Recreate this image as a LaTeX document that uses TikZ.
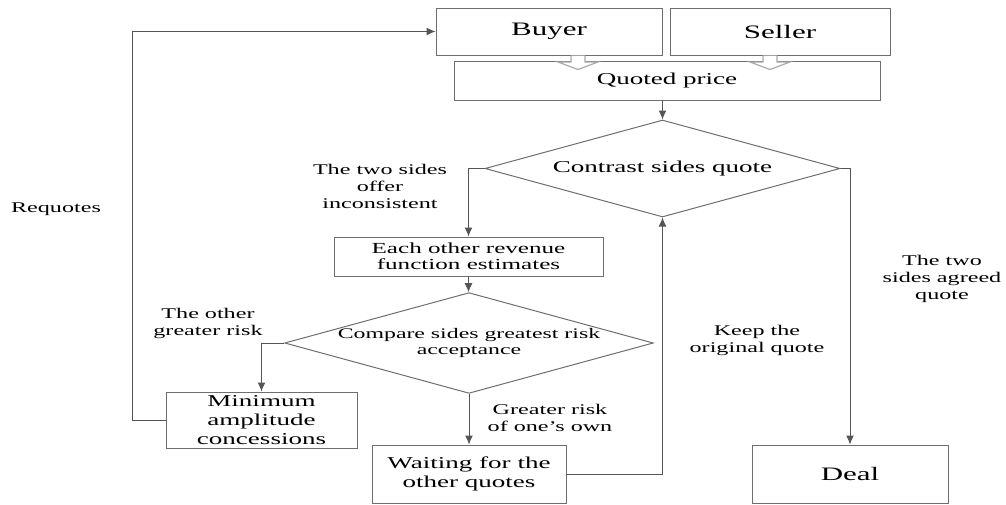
\documentclass[tikz,border=0pt]{standalone}
\usepackage{fontspec}
\setmainfont[FakeStretch=1.63]{Liberation Serif}
\usetikzlibrary{arrows.meta,shapes.geometric}
\definecolor{boxgray}{RGB}{110,110,110}
\definecolor{linegray}{RGB}{85,85,85}
\definecolor{hollowgray}{RGB}{170,170,170}

\begin{document}
\begin{tikzpicture}[x=0.5pt,y=-0.5pt,
	box/.style={draw=boxgray,line width=.5pt,inner sep=0,align=center,font=\fontsize{8.3}{9.7}\selectfont},
	bigbox/.style={box,font=\fontsize{9.5}{11}\selectfont},
	decision/.style={diamond,draw=boxgray,line width=.5pt,aspect=3.66,inner sep=0,align=center},
	lbl/.style={align=center,font=\fontsize{7.4}{8.5}\selectfont},
	arr/.style={draw=linegray,line width=.5pt,-{Latex[length=4.5pt,width=4pt]}},
	hollow/.style={draw=hollowgray,fill=white,line width=.6pt}]
	\useasboundingbox (0,0) rectangle (1006,504);
	
	% boxes
	\node[bigbox,minimum width=113pt,minimum height=23.5pt] (buyer) at (549,31.5) {Buyer};
	\node[bigbox,minimum width=110pt,minimum height=23.5pt] (seller) at (780,31.5) {Seller};
	\node[box,minimum width=213pt,minimum height=19.5pt] (quoted) at (667,80.5) {Quoted price};
	\node[decision,minimum width=177.5pt,minimum height=48.5pt,font=\fontsize{8.3}{9.7}\selectfont] (contrast) at (662.5,168.5) {Contrast sides quote};
	\node[box,minimum width=134.5pt,minimum height=19.5pt,font=\fontsize{7.7}{8.2}\selectfont] (estimate) at (468.5,256.5) {Each other revenue\\function estimates};
	\node[decision,minimum width=176pt,minimum height=48pt,font=\fontsize{7.3}{7.9}\selectfont] (compare) at (469,343) {Compare sides greatest risk\\acceptance};
	\node[box,minimum width=95.5pt,minimum height=28pt,font=\fontsize{8.3}{9.5}\selectfont] (concede) at (261.5,420) {Minimum\\amplitude\\concessions};
	\node[box,minimum width=97pt,minimum height=29pt] (wait) at (469,474) {Waiting for the\\other quotes};
	\node[bigbox,minimum width=98pt,minimum height=29pt] (deal) at (850,474) {Deal};
	
	% labels
	\node[lbl] (offerlbl) at (380,186) {The two sides\\offer\\inconsistent};
	\node[lbl] (requote) at (56,209) {Requotes};
	\node[lbl] (risklbl) at (208,323) {The other\\greater risk};
	\node[lbl] (ownlbl) at (550,418) {Greater risk\\of one's own};
	\node[lbl] (keeplbl) at (757,340.5) {Keep the\\original quote};
	\node[lbl] (agreelbl) at (942,279) {The two\\sides agreed\\quote};
	
	% hollow arrows into quoted price
	\foreach \nd/\dx in {buyer/29,seller/-10}
		\draw[hollow] ([shift={(\dx,0)}]\nd.south) ++(-7,0) -- ++(0,6.5) -- ++(-13,0) -- ++(20,7.5) -- ++(20,-7.5) -- ++(-13,0) -- ++(0,-6.5);
	
	% connectors
	\coordinate (loop) at (132,0);
	\draw[arr] (quoted.south -| contrast.north) -- (contrast.north);
	\draw[arr] (contrast.west) -| (estimate.north);
	\draw[arr] (estimate.south) -- (estimate.south |- compare.north);
	\draw[arr] (compare.west) -| (concede.north);
	\draw[arr] (compare.south) -- (wait.north);
	\draw[arr] (wait.east) -| (contrast.south);
	\draw[arr] (contrast.east) -| (deal.north);
	\draw[arr] (concede.west) -| (loop |- buyer.west) -- (buyer.west);
\end{tikzpicture}
\end{document}
